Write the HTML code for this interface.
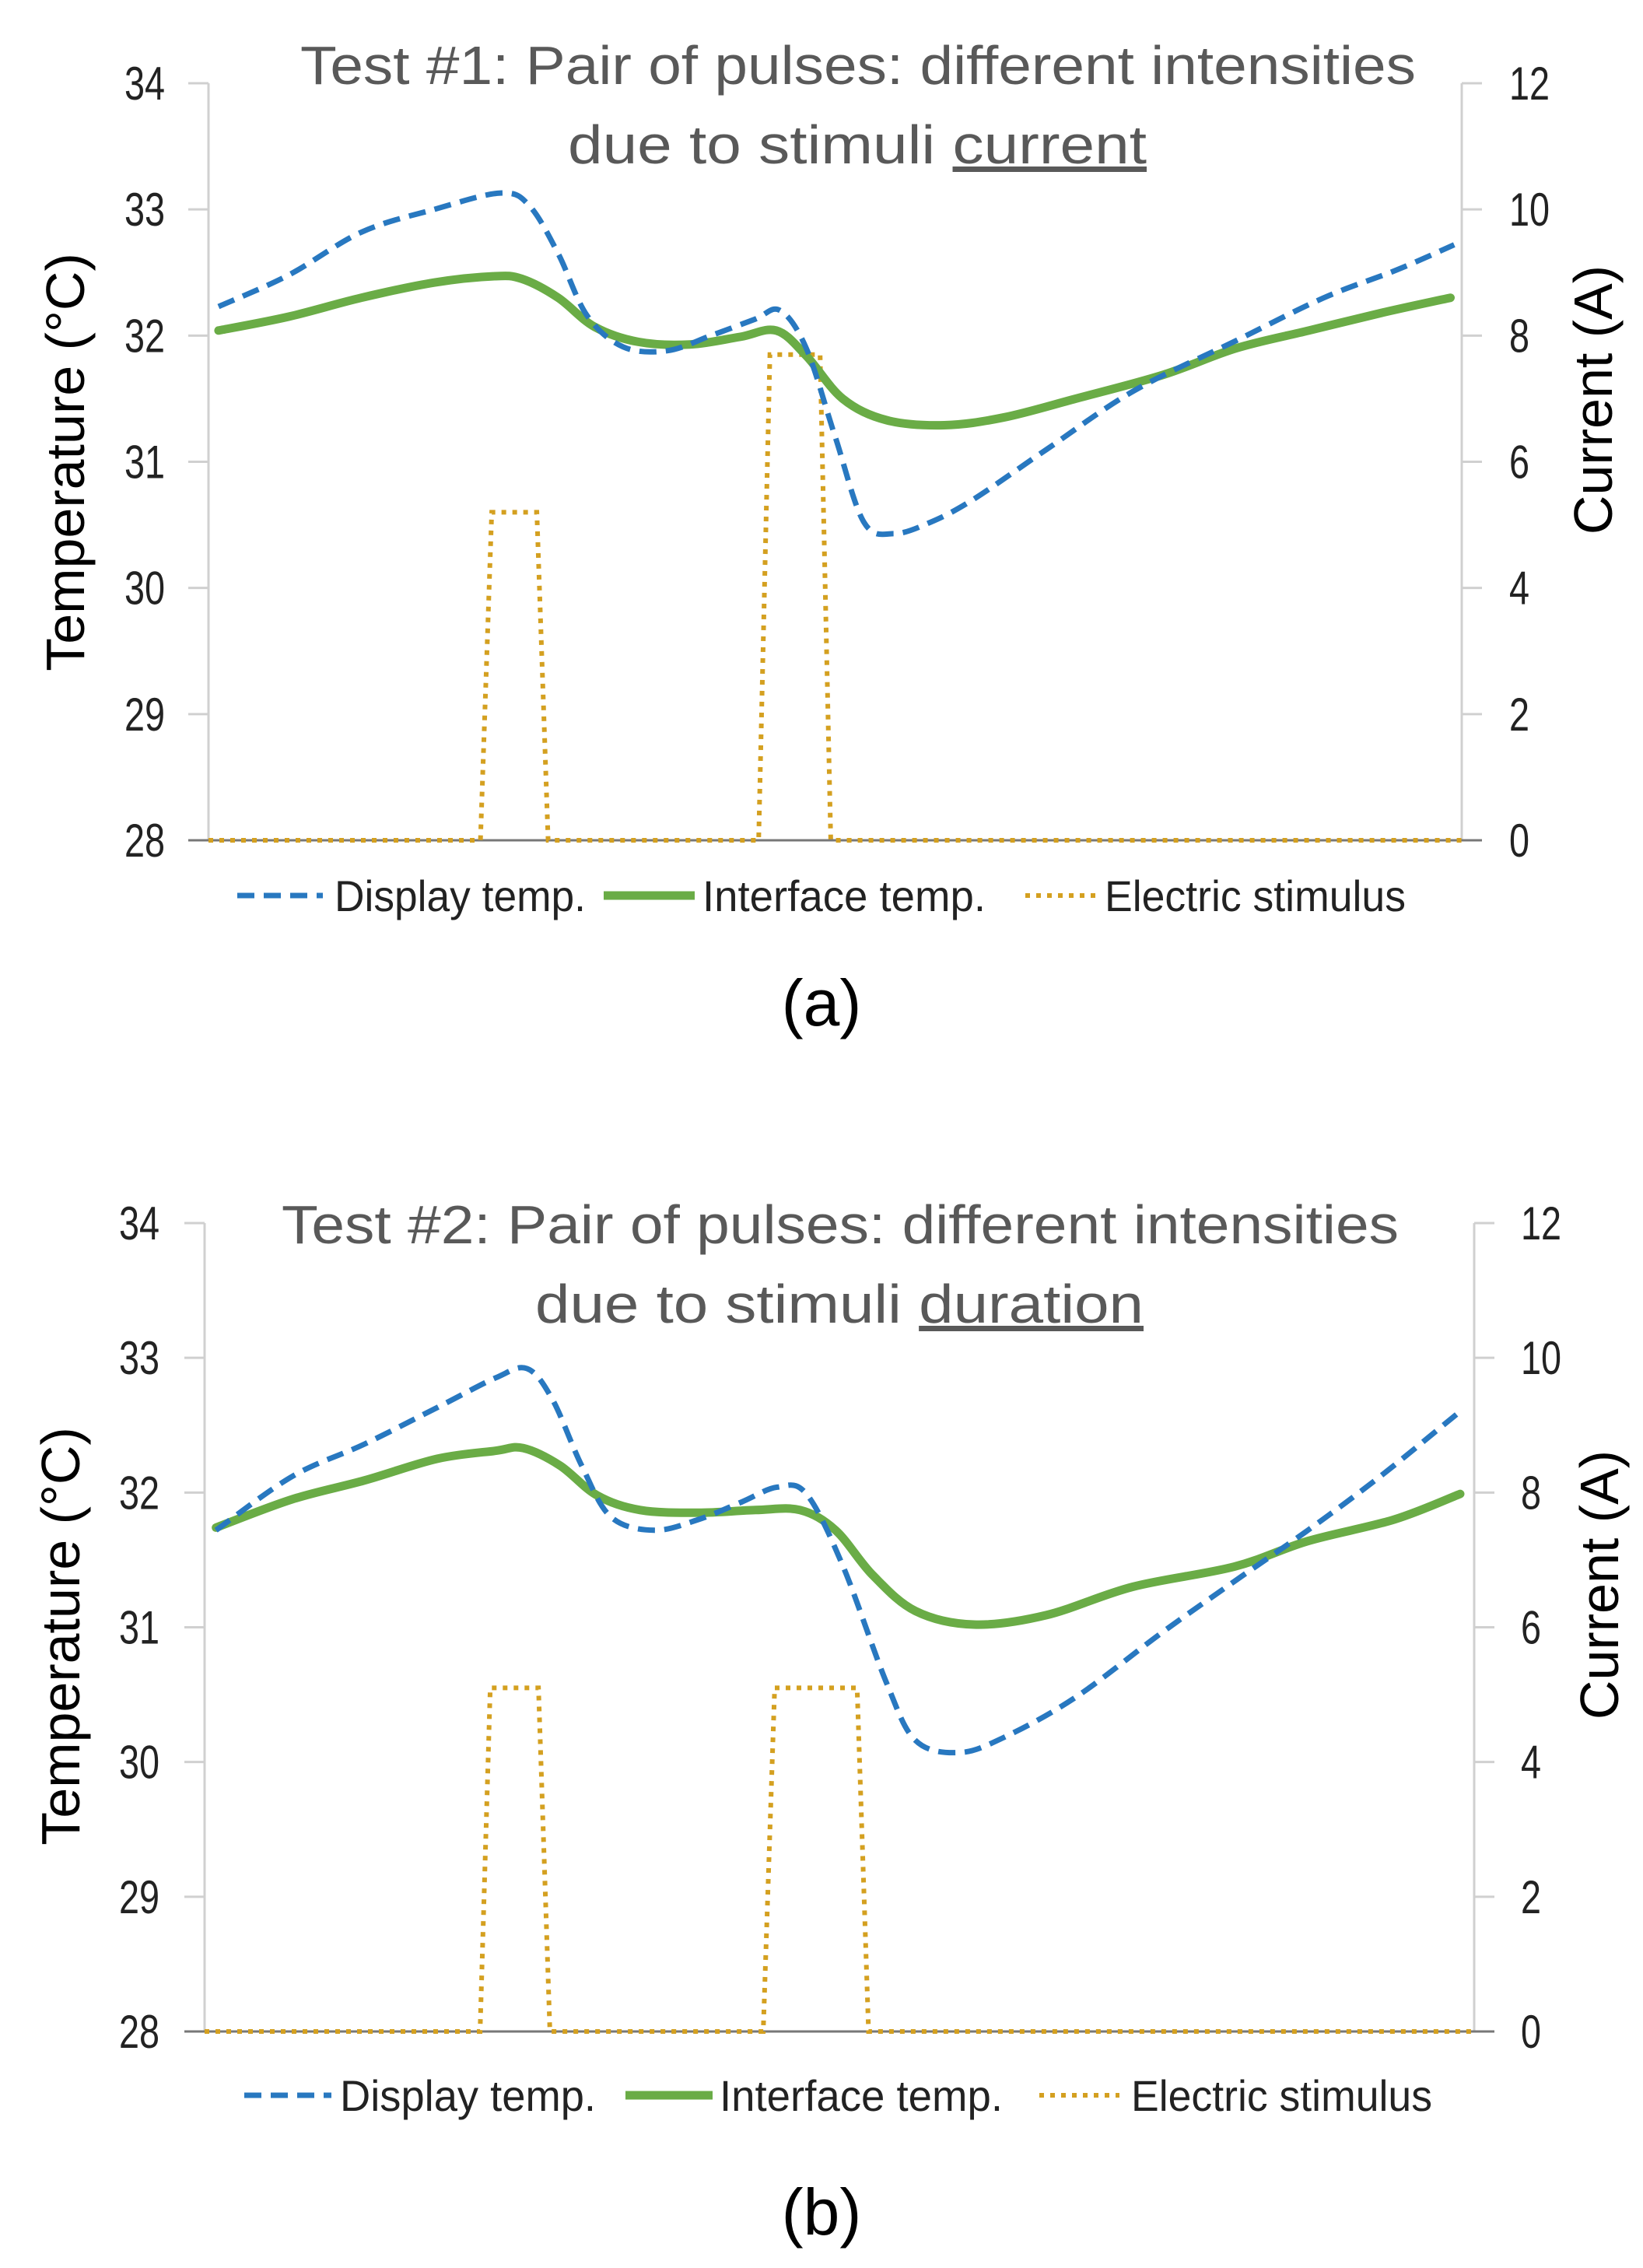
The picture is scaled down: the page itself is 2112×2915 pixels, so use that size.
<!DOCTYPE html>
<html><head><meta charset="utf-8"><style>
html,body{margin:0;padding:0;background:#fff}
svg{display:block}
text{font-family:"Liberation Sans",sans-serif}
</style></head><body>
<svg id="fig" width="2112" height="2915" viewBox="0 0 2112 2915" xmlns="http://www.w3.org/2000/svg"></svg>
<script>
// ---- Chart (a) data ----
const aDispT=[0.8,6.4,12.2,18.0,23.3,25.6,27.9,30.2,33.1,36.6,40.1,43.6,45.6,47.7,50.0,52.3,54.7,57.6,61.0,66.9,73.8,82.0,89.0,94.8,99.4];
const aDispV=[32.23,32.48,32.82,33.0,33.13,33.03,32.65,32.16,31.91,31.88,32.0,32.13,32.2,31.9,31.2,30.52,30.43,30.52,30.7,31.1,31.56,31.96,32.3,32.52,32.72];
const aIntT=[0.8,6.4,12.2,18.0,22.7,25.0,27.9,30.8,34.3,38.4,42.4,45.3,47.7,50.6,54.1,58.7,63.4,69.2,76.2,82.0,87.8,93.6,99.1];
const aIntV=[32.04,32.15,32.3,32.42,32.47,32.45,32.3,32.07,31.95,31.93,31.99,32.04,31.84,31.5,31.33,31.29,31.35,31.5,31.69,31.9,32.04,32.18,32.3];
const aStimT=[0,21.7,22.6,26.2,27.1,43.9,44.8,48.8,49.65,100];
const aStimV=[0,0,5.2,5.2,0,0,7.7,7.7,0,0];
// ---- Chart (b) data ----
const bDispT=[0.9,6.9,12.6,18.3,22.9,25.4,27.4,29.7,32.0,35.4,38.9,42.3,45.1,47.4,50.3,53.7,56.0,59.4,62.9,68.6,75.4,81.1,86.9,92.6,98.6];
const bDispV=[31.72,32.12,32.36,32.63,32.85,32.92,32.69,32.2,31.82,31.72,31.8,31.93,32.04,31.99,31.45,30.59,30.16,30.07,30.18,30.48,30.96,31.34,31.72,32.12,32.58];
const bIntT=[0.9,6.9,12.6,18.3,22.9,25.1,28.0,30.9,34.3,38.9,43.4,46.9,49.7,52.6,56.0,60.6,66.3,73.1,81.1,86.9,93.7,98.9];
const bIntV=[31.74,31.95,32.09,32.25,32.31,32.33,32.2,31.98,31.87,31.85,31.87,31.87,31.72,31.39,31.12,31.02,31.09,31.3,31.45,31.64,31.8,31.99];
const bStimT=[0,21.7,22.5,26.3,27.2,44.0,44.9,51.4,52.3,100];
const bStimV=[0,0,5.1,5.1,0,0,5.1,5.1,0,0];
const tempTicks=[28,29,30,31,32,33,34];
const curTicks=[0,2,4,6,8,10,12];

const NS="http://www.w3.org/2000/svg";
const svg=document.getElementById('fig');
function mk(tag,attrs,parent){const e=document.createElementNS(NS,tag);for(const k in attrs)e.setAttribute(k,attrs[k]);(parent||svg).appendChild(e);return e;}
function smooth(P){
  let d='M'+P[0][0].toFixed(1)+','+P[0][1].toFixed(1);
  for(let i=0;i<P.length-1;i++){
    const p0=P[Math.max(0,i-1)],p1=P[i],p2=P[i+1],p3=P[Math.min(P.length-1,i+2)];
    const c1=[p1[0]+(p2[0]-p0[0])/6,p1[1]+(p2[1]-p0[1])/6];
    const c2=[p2[0]-(p3[0]-p1[0])/6,p2[1]-(p3[1]-p1[1])/6];
    d+=` C${c1[0].toFixed(1)},${c1[1].toFixed(1)} ${c2[0].toFixed(1)},${c2[1].toFixed(1)} ${p2[0].toFixed(1)},${p2[1].toFixed(1)}`;
  }
  return d;
}

function chart(c){
  const g=mk('g',{});
  
  
  const xS=t=>c.x0+(c.x1-c.x0)*t/100;
  const yT=v=>c.yb+(c.yt-c.yb)*(v-28)/6;
  const yC=v=>c.yb+(c.yt-c.yb)*v/12;
  const la=mk('line',{x1:c.x0,y1:c.yt,x2:c.x0,y2:c.yb,stroke:'#d0d0d0','stroke-width':3},g);
  
  const ra=mk('line',{x1:c.x1,y1:c.yt,x2:c.x1,y2:c.yb,stroke:'#d0d0d0','stroke-width':3},g);
  
  tempTicks.forEach(v=>{
    mk('line',{x1:c.x0-26,y1:yT(v),x2:c.x0,y2:yT(v),stroke:'#d0d0d0','stroke-width':3},g);
    const t=mk('text',{x:c.lx,y:yT(v)+21,'text-anchor':'end','font-size':60,fill:'#222',transform:`translate(${c.lx},0) scale(0.78,1) translate(${-c.lx},0)`},g);
    t.textContent=v;
    
  });
  curTicks.forEach(v=>{
    mk('line',{x1:c.x1,y1:yC(v),x2:c.x1+26,y2:yC(v),stroke:'#d0d0d0','stroke-width':3},g);
    const t=mk('text',{x:c.rx,y:yC(v)+21,'text-anchor':'start','font-size':60,fill:'#222',transform:`translate(${c.rx},0) scale(0.78,1) translate(${-c.rx},0)`},g);
    t.textContent=v;
    
  });
  const ba=mk('line',{x1:c.x0-26,y1:c.yb,x2:c.x1+26,y2:c.yb,stroke:'#777','stroke-width':3},g);
  
  mk('rect',{x:c.tx0,y:c.yt-40,width:c.tx1-c.tx0,height:80,fill:'#fff'},g);
  const tc=(c.tx0+c.tx1)/2;
  const t1=mk('text',{x:tc,y:c.ty1,'text-anchor':'middle','font-size':70,fill:'#595959',textLength:c.tx1-c.tx0-20,lengthAdjust:'spacingAndGlyphs'},g);
  t1.textContent=c.title1;
  
  const t2=mk('text',{x:c.t2x,y:c.ty2,'text-anchor':'start','font-size':70,fill:'#595959',textLength:c.t2w,lengthAdjust:'spacingAndGlyphs'},g);
  t2.textContent=c.title2a;
  const ts=mk('tspan',{'text-decoration':'underline'},t2);ts.textContent=c.title2b;
  
  const yl=mk('text',{x:0,y:0,'text-anchor':'middle','font-size':70,fill:'#000',transform:`translate(${c.ylx},${c.yly}) rotate(-90)`},g);
  yl.textContent='Temperature (°C)';
  
  const yr=mk('text',{x:0,y:0,'text-anchor':'middle','font-size':70,fill:'#000',transform:`translate(${c.yrx},${c.yry}) rotate(-90)`},g);
  yr.textContent='Current (A)';
  
  const pts=(T,V,f)=>T.map((t,i)=>xS(t).toFixed(1)+','+f(V[i]).toFixed(1)).join(' ');
  const P=(T,V,f)=>T.map((t,i)=>[xS(t),f(V[i])]);
  const st=mk('polyline',{points:pts(c.sT,c.sV,yC),fill:'none',stroke:'#d4a020','stroke-width':6,'stroke-dasharray':'6 8'},g);
  
  const gi=mk('path',{d:smooth(P(c.iT,c.iV,yT)),fill:'none',stroke:'#6aac46','stroke-width':11,'stroke-linejoin':'round','stroke-linecap':'round'},g);
  
  const di=mk('path',{d:smooth(P(c.dT,c.dV,yT)),fill:'none',stroke:'#2878c0','stroke-width':7,'stroke-dasharray':'22 12','stroke-linejoin':'round'},g);
  
  const L=c.leg;
  const items=[['Display temp.','#2878c0',7,'22 12'],['Interface temp.','#6aac46',11,''],['Electric stimulus','#d4a020',6,'6 8']];
  items.forEach((it,i)=>{
    const lg=mk('g',{},g);
    
    const a={x1:L.s[i][0],x2:L.s[i][1],y1:L.y,y2:L.y,stroke:it[1],'stroke-width':it[2]};
    if(it[3])a['stroke-dasharray']=it[3];
    mk('line',a,lg);
    const tx=mk('text',{x:L.s[i][2],y:L.y+20,'font-size':56,fill:'#222',textLength:L.s[i][3],lengthAdjust:'spacingAndGlyphs'},lg);
    tx.textContent=it[0];
  });
  const cap=mk('text',{x:1056,y:c.capY,'text-anchor':'middle','font-size':84,fill:'#000','font-family':'Liberation Serif, serif'},g);
  cap.textContent=c.cap;
  
}

chart({id:'chart-a',x0:268,x1:1879,yt:107,yb:1080,lx:212,rx:1940,
  tx0:376,tx1:1830,ty1:108,ty2:210,t2x:730,t2w:744,title1:'Test #1: Pair of pulses: different intensities',title2a:'due to stimuli ',title2b:'current',
  ylx:108,yly:594,yrx:2072,yry:514,
  dT:aDispT,dV:aDispV,iT:aIntT,iV:aIntV,sT:aStimT,sV:aStimV,
  leg:{y:1151,s:[[305,415,430,323],[776,893,903,364],[1318,1411,1420,387]]},capY:1318,cap:'(a)'});
chart({id:'chart-b',x0:263,x1:1895,yt:1572,yb:2611,lx:205,rx:1955,
  tx0:352,tx1:1808,ty1:1598,ty2:1700,t2x:688,t2w:782,title1:'Test #2: Pair of pulses: different intensities',title2a:'due to stimuli ',title2b:'duration',
  ylx:102,yly:2103,yrx:2080,yry:2037,
  dT:bDispT,dV:bDispV,iT:bIntT,iV:bIntV,sT:bStimT,sV:bStimV,
  leg:{y:2693,s:[[314,426,437,329],[804,916,925,364],[1336,1439,1454,387]]},capY:2872,cap:'(b)'});
</script>
</body></html>
